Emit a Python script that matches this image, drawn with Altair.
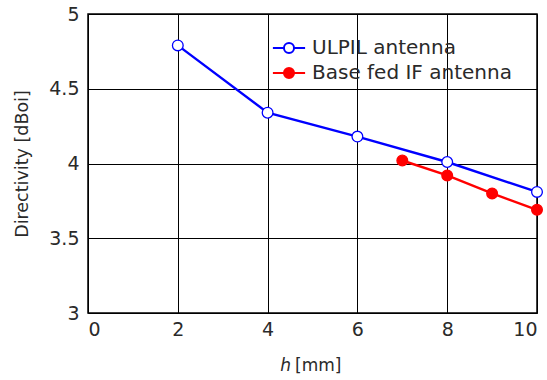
import altair as alt
import pandas as pd

ulpil_h = [2, 4, 6, 8, 10]
ulpil_d = [4.79, 4.34, 4.18, 4.01, 3.81]
base_h = [7, 8, 9, 10]
base_d = [4.02, 3.92, 3.80, 3.69]
series_names = ["ULPIL antenna", "Base fed IF antenna"]
x_ticks = [0, 2, 4, 6, 8, 10]
y_ticks = [3, 3.5, 4, 4.5, 5]

df = pd.DataFrame({
    "h": ulpil_h + base_h,
    "d": ulpil_d + base_d,
    "series": [series_names[0]] * len(ulpil_h) + [series_names[1]] * len(base_h),
})

FONT = "DejaVu Sans"
TXT = "#2a2a2a"

xenc = alt.X("h:Q", scale=alt.Scale(domain=[0, 10], nice=False),
             axis=alt.Axis(values=x_ticks, title=None, grid=True, ticks=False, domain=False,
                           labelFontSize=19, labelFont=FONT, labelColor=TXT, labelPadding=7,
                           gridColor="black", gridOpacity=1, gridWidth=1))
yenc = alt.Y("d:Q", scale=alt.Scale(domain=[3, 5], nice=False),
             axis=alt.Axis(values=y_ticks, format="~g", title="Directivity [dBoi]", grid=True,
                           ticks=False, domain=False,
                           labelFontSize=19, labelFont=FONT, labelColor=TXT, labelPadding=9,
                           titleFontSize=17.5, titleFont=FONT, titleColor=TXT, titleFontWeight="normal",
                           titlePadding=17,
                           gridColor="black", gridOpacity=1, gridWidth=1))

stroke_scale = alt.Scale(domain=series_names, range=["#0000ff", "#ff0000"])
fill_scale = alt.Scale(domain=series_names, range=["#ffffff", "#ff0000"])

legend = alt.Legend(title=None, orient="none", legendX=186, legendY=19,
                    symbolType="M-1.15,0H-0.36M0.36,0H1.15M0.36,0A0.36,0.36 0 1,1 -0.36,0A0.36,0.36 0 1,1 0.36,0Z",
                    symbolSize=784, symbolStrokeWidth=2, labelFontSize=20, labelFont=FONT,
                    labelColor=TXT, labelOffset=8, rowPadding=0, symbolOpacity=1, labelLimit=400)

base = alt.Chart(df)
lines = base.mark_line(strokeWidth=2.4).encode(
    x=xenc, y=yenc,
    stroke=alt.Stroke("series:N", scale=stroke_scale, legend=legend, sort=series_names),
    detail="series:N",
)
points = base.mark_point(filled=False, size=115, strokeWidth=1.3, opacity=1).encode(
    x=xenc, y=yenc,
    stroke=alt.Stroke("series:N", scale=stroke_scale, legend=legend, sort=series_names),
    fill=alt.Fill("series:N", scale=fill_scale, legend=legend, sort=series_names),
)

title_df = pd.DataFrame({"t": ["h"], "u": ["[mm]"]})
title_h = alt.Chart(title_df).mark_text(font=FONT, fontSize=17, fontStyle="italic", color=TXT,
                                         align="right", baseline="middle").encode(
    text="t:N", x=alt.value(203), y=alt.value(352))
title_u = alt.Chart(title_df).mark_text(font=FONT, fontSize=17, color=TXT,
                                         align="left", baseline="middle").encode(
    text="u:N", x=alt.value(207), y=alt.value(352))

chart = alt.layer(lines, points, title_h, title_u).properties(
    width=449, height=299,
    autosize=alt.AutoSizeParams(type="none"),
    padding={"left": 88, "top": 14, "right": 10, "bottom": 67},
    background="white",
).configure_view(stroke="black", strokeWidth=1.5)

chart.save("out.html", embed_options={"renderer": "svg", "actions": False})
